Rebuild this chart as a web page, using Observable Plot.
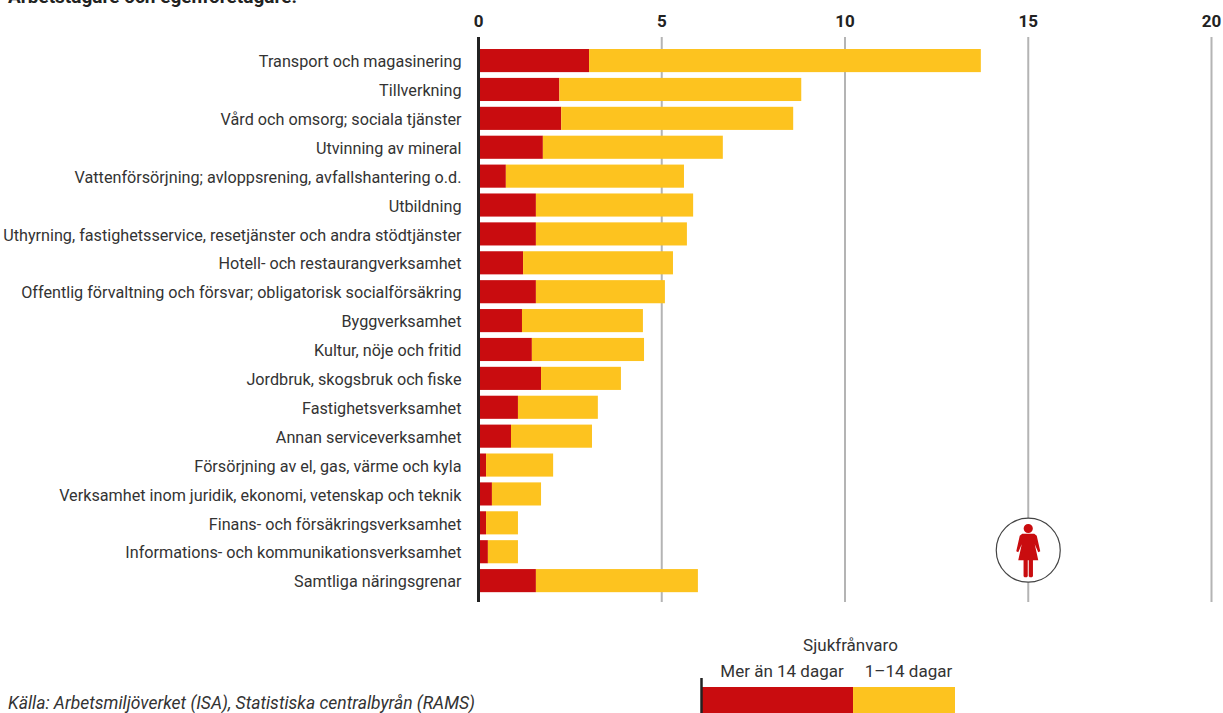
<!DOCTYPE html>
<html lang="sv"><head><meta charset="utf-8">
<script src="https://cdn.jsdelivr.net/npm/d3@7"></script>
<script src="https://cdn.jsdelivr.net/npm/@observablehq/plot@0.6"></script>
<style>
html,body{margin:0;padding:0;background:#fff;overflow:hidden;width:1223px;height:713px}
#wrap{position:relative;width:1223px;height:713px;overflow:hidden;font-family:Roboto,sans-serif;color:#333}
#wrap svg{position:absolute;left:0;top:0;background:transparent;font-family:Roboto,sans-serif}
#title{position:absolute;left:8px;top:-14px;font-size:19px;font-weight:700;color:#222;line-height:22px}
#source{position:absolute;left:8px;top:693px;font-size:17.5px;font-style:italic;color:#333;line-height:20px}
</style></head><body>
<div id="wrap"><div id="title">Arbetstagare och egenföretagare.</div><div id="source">Källa: Arbetsmiljöverket (ISA), Statistiska centralbyrån (RAMS)</div></div>
<script>
const categories = ["Transport och magasinering","Tillverkning","Vård och omsorg; sociala tjänster","Utvinning av mineral","Vattenförsörjning; avloppsrening, avfallshantering o.d.","Utbildning","Uthyrning, fastighetsservice, resetjänster och andra stödtjänster","Hotell- och restaurangverksamhet","Offentlig förvaltning och försvar; obligatorisk socialförsäkring","Byggverksamhet","Kultur, nöje och fritid","Jordbruk, skogsbruk och fiske","Fastighetsverksamhet","Annan serviceverksamhet","Försörjning av el, gas, värme och kyla","Verksamhet inom juridik, ekonomi, vetenskap och teknik","Finans- och försäkringsverksamhet","Informations- och kommunikationsverksamhet","Samtliga näringsgrenar"];
const over14 = [3.03,2.22,2.27,1.77,0.76,1.58,1.58,1.23,1.58,1.2,1.47,1.72,1.09,0.9,0.22,0.38,0.22,0.27,1.58];
const total  = [13.72,8.82,8.6,6.68,5.62,5.87,5.7,5.32,5.1,4.5,4.53,3.9,3.27,3.11,2.05,1.72,1.09,1.09,6.0];
const xTicks = [0,5,10,15,20];
const legendTitle = "Sjukfrånvaro";
const legendLabels = ["Mer än 14 dagar","1–14 dagar"];
const legendShares = [0.597,0.403];
const RED="#c90c0f", YEL="#fdc31f";

const rows = categories.flatMap((c,i)=>[
  {c,part:"a",v:over14[i]},
  {c,part:"b",v:total[i]-over14[i]}
]);
const woman = {draw(ctx){
  ctx.moveTo(4.6,-21.7); ctx.arc(0,-21.7,4.6,0,2*Math.PI);
  ctx.moveTo(-6,-16.5); ctx.lineTo(6,-16.5); ctx.lineTo(8.5,-14.5); ctx.lineTo(12,1); ctx.lineTo(10,2); ctx.lineTo(6.5,-6);
  ctx.lineTo(10,10); ctx.lineTo(-10,10); ctx.lineTo(-6.5,-6); ctx.lineTo(-10,2); ctx.lineTo(-12,1); ctx.lineTo(-8.5,-14.5); ctx.closePath();
  ctx.moveTo(-4.7,10); ctx.lineTo(-0.5,10); ctx.lineTo(-0.5,26); ctx.lineTo(-1.5,27); ctx.lineTo(-3.7,27); ctx.lineTo(-4.7,26); ctx.closePath();
  ctx.moveTo(0.5,10); ctx.lineTo(4.7,10); ctx.lineTo(4.7,26); ctx.lineTo(3.7,27); ctx.lineTo(1.5,27); ctx.lineTo(0.5,26); ctx.closePath();
}};
const main = Plot.plot({
  width:1223,height:713,
  marginTop:37,marginBottom:111,marginLeft:478,marginRight:12,
  style:{background:"transparent",fontFamily:"Roboto,sans-serif"},
  x:{domain:[0,20],axis:null},
  y:{domain:categories,axis:null,paddingInner:0.2,paddingOuter:0.378,align:0.55,round:false},
  marks:[
    Plot.ruleX(xTicks.slice(1),{stroke:"#b4b4b4",strokeWidth:2}),
    Plot.axisX(xTicks,{anchor:"top",tickSize:0,tickPadding:11,fontSize:17,fontWeight:700,fill:"#222",label:null,tickFormat:d=>d}),
    Plot.axisY(categories,{anchor:"left",tickSize:0,tickPadding:17,fontSize:16.2,fill:"#333",label:null,lineWidth:100,textOverflow:null,dy:1}),
    Plot.barX(rows,Plot.stackX({order:null,x:"v",y:"c",fill:d=>d.part==="a"?RED:YEL})),
    Plot.ruleX([0],{stroke:"#222",strokeWidth:3}),
    Plot.dot([{x:15,c:categories[17]}],{x:"x",y:"c",dy:-2,r:32,fill:"#fff",stroke:"#444",strokeWidth:1.2}),
    Plot.dot([{x:15,c:categories[17]}],{x:"x",y:"c",dy:-2,r:20,symbol:woman,fill:RED,stroke:"none"})
  ]
});
document.getElementById("wrap").appendChild(main);

const lr = legendLabels.map((label,i)=>({label,v:legendShares[i],i}));
const legend = Plot.plot({
  width:1223,height:713,
  marginTop:687,marginBottom:0,marginLeft:702,marginRight:268,
  style:{background:"transparent",fontFamily:"Roboto,sans-serif"},
  x:{domain:[0,1],axis:null},
  y:{domain:["s"],axis:null,padding:0,round:false},
  marks:[
    Plot.barX(lr,Plot.stackX({order:null,x:"v",y:()=>"s",fill:d=>d.i===0?RED:YEL})),
    Plot.ruleX([0],{stroke:"#222",strokeWidth:2.5,insetTop:-9,dx:-1}),
    Plot.text(lr,{x:(d,i)=>i===0?legendShares[0]/2:legendShares[0]+legendShares[1]/2,frameAnchor:"top",dy:-23,dx:4,text:"label",fontSize:17,fill:"#333",textAnchor:"middle"}),
    Plot.text([legendTitle],{x:()=>0.585,frameAnchor:"top",dy:-49,text:d=>d,fontSize:17,fill:"#333",textAnchor:"middle"})
  ]
});
document.getElementById("wrap").appendChild(legend);
</script></body></html>
